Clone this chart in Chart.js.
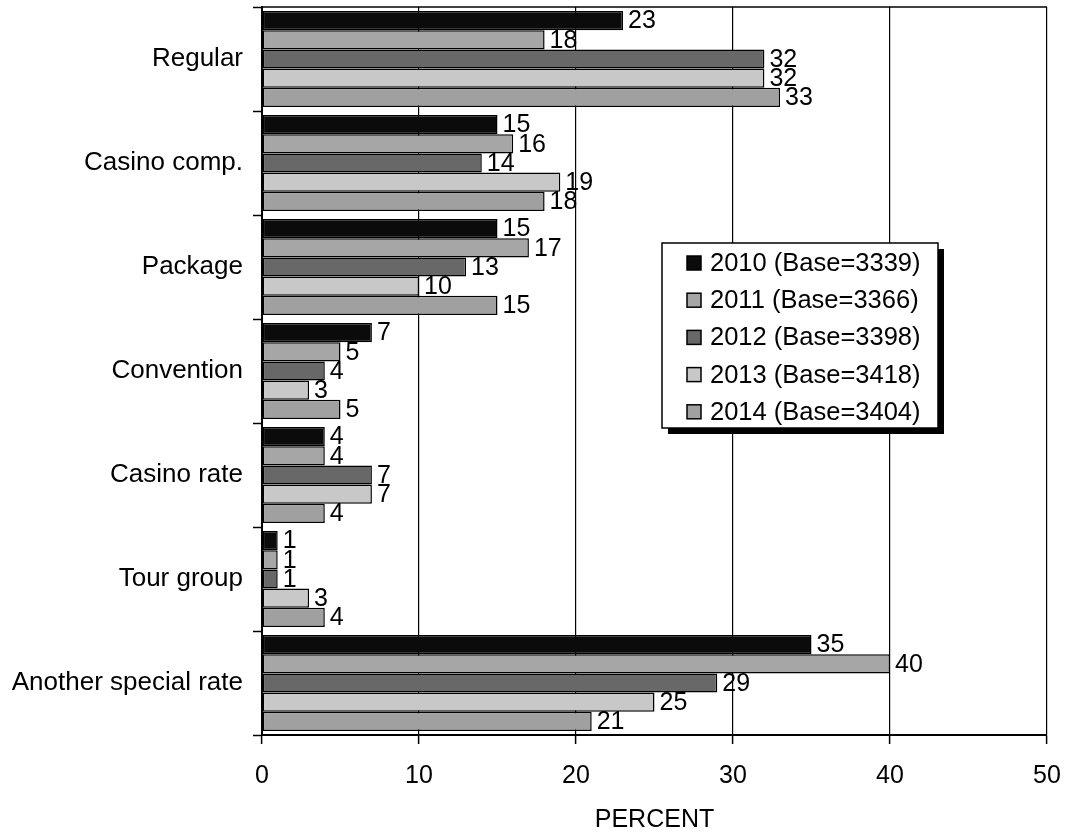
<!DOCTYPE html>
<html>
<head>
<meta charset="utf-8">
<script src="https://cdn.jsdelivr.net/npm/chart.js@4.4.1/dist/chart.umd.min.js"></script>
<style>
html,body{margin:0;padding:0;background:#fff;}
#wrap{width:1066px;height:833px;position:relative;}
</style>
</head>
<body>
<div id="wrap"><canvas id="c" width="1066" height="833"></canvas></div>
<script>
const categories = ["Regular","Casino comp.","Package","Convention","Casino rate","Tour group","Another special rate"];
const seriesNames = ["2010 (Base=3339)","2011 (Base=3366)","2012 (Base=3398)","2013 (Base=3418)","2014 (Base=3404)"];
const v2010 = [23,15,15,7,4,1,35];
const v2011 = [18,16,17,5,4,1,40];
const v2012 = [32,14,13,4,7,1,29];
const v2013 = [32,19,10,3,7,3,25];
const v2014 = [33,18,15,5,4,4,21];
const xTicks = [0,10,20,30,40,50];
const colors = ["#0b0b0b","#a6a6a6","#686868","#c8c8c8","#a0a0a0"];

const FONT = "'Liberation Sans', Arial, sans-serif";
const allValues = [v2010,v2011,v2012,v2013,v2014];

const datasets = allValues.map((vals,i)=>({
  label: seriesNames[i],
  data: vals,
  backgroundColor: colors[i],
  borderColor: "#000",
  borderWidth: 1.5,
  borderSkipped: false,
  categoryPercentage: 0.925,
  barPercentage: 1.0
}));

const labelPlugin = {
  id: 'valueLabels',
  afterDatasetsDraw(chart){
    const ctx = chart.ctx;
    ctx.save();
    ctx.font = "25px " + FONT;
    ctx.fillStyle = "#000";
    ctx.textAlign = "left";
    ctx.textBaseline = "middle";
    chart.data.datasets.forEach((ds,di)=>{
      const meta = chart.getDatasetMeta(di);
      meta.data.forEach((el,j)=>{
        ctx.fillText(String(ds.data[j]), el.x + 5, el.y + 1);
      });
    });
    ctx.restore();
  }
};

const framePlugin = {
  id: 'frameAndLegend',
  afterDraw(chart){
    const ctx = chart.ctx;
    const a = chart.chartArea;
    ctx.save();
    ctx.strokeStyle = "#000";
    ctx.lineWidth = 1.5;
    ctx.beginPath();
    ctx.moveTo(a.left, a.top);
    ctx.lineTo(a.right, a.top);
    ctx.stroke();
    const lx = a.left + 400, ly = a.top + 236, lw = 276, lh = 185, sh = 6;
    ctx.fillStyle = "#000";
    ctx.fillRect(lx + sh, ly + sh, lw, lh);
    ctx.fillStyle = "#fff";
    ctx.fillRect(lx, ly, lw, lh);
    ctx.lineWidth = 1.5;
    ctx.strokeStyle = "#000";
    ctx.strokeRect(lx, ly, lw, lh);
    ctx.font = "25.5px " + FONT;
    ctx.textBaseline = "middle";
    ctx.textAlign = "left";
    chart.data.datasets.forEach((ds,i)=>{
      const cy = ly + 20 + i * 37.2;
      ctx.fillStyle = ds.backgroundColor;
      ctx.fillRect(lx + 25, cy - 7, 14, 14);
      ctx.lineWidth = 1.5;
      ctx.strokeStyle = "#000";
      ctx.strokeRect(lx + 25, cy - 7, 14, 14);
      ctx.fillStyle = "#000";
      ctx.fillText(ds.label, lx + 48, cy + 1);
    });
    ctx.restore();
  }
};

new Chart(document.getElementById('c'), {
  type: 'bar',
  data: { labels: categories, datasets: datasets },
  options: {
    indexAxis: 'y',
    responsive: false,
    animation: false,
    devicePixelRatio: 1,
    layout: { padding: { top: 7, right: 19, left: 0, bottom: 0 } },
    plugins: { legend: { display: false }, tooltip: { enabled: false }, title: { display: false } },
    scales: {
      x: {
        type: 'linear',
        min: 0, max: 50,
        afterBuildTicks(scale){ scale.ticks = xTicks.map(v=>({value:v})); },
        afterFit(scale){ scale.height = 98; scale.paddingLeft = 0; scale.paddingRight = 0; },
        grid: { color: "#000", lineWidth: 1.2, drawTicks: true, tickLength: 9, tickColor: "#000", tickWidth: 1.5 },
        border: { display: true, color: "#000", width: 2 },
        ticks: { color: "#000", font: { family: FONT, size: 25 }, padding: 17, maxRotation: 0 },
        title: { display: true, text: "PERCENT", color: "#000", font: { family: FONT, size: 25, lineHeight: 1.2 }, padding: { top: 0, bottom: -2 } }
      },
      y: {
        type: 'category',
        afterFit(scale){ scale.width = 262; scale.paddingTop = 0; scale.paddingBottom = 0; },
        grid: { display: true, drawOnChartArea: false, drawTicks: true, tickLength: 9, color: "#000", tickColor: "#000", tickWidth: 1.5, offset: true },
        border: { display: true, color: "#000", width: 2 },
        ticks: { color: "#000", font: { family: FONT, size: 26 }, padding: 10, autoSkip: false }
      }
    }
  },
  plugins: [labelPlugin, framePlugin]
});
</script>
</body>
</html>
